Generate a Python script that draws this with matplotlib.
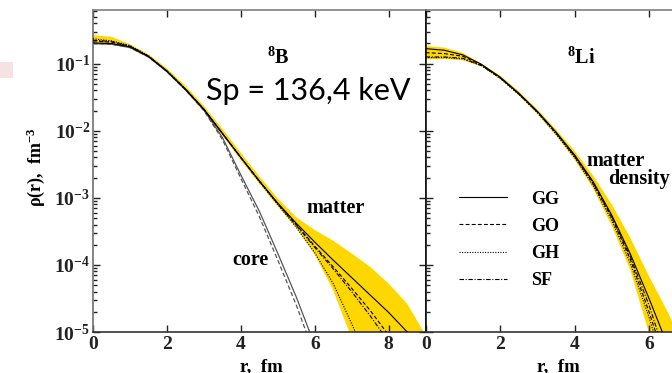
import numpy as np
import matplotlib
matplotlib.use("Agg")
import matplotlib.pyplot as plt
from matplotlib.ticker import FuncFormatter, LogLocator, NullFormatter
from matplotlib.patches import Rectangle

# === Density data, log10(rho) in fm^-3 ===
# 8B panel
r_b = [0, 0.5, 1, 1.5, 2, 2.5, 3, 3.5, 4, 4.5, 5, 5.5, 6, 6.5, 7, 7.5, 8, 8.5, 9]
b_gg = [-0.69, -0.70, -0.75, -0.89, -1.11, -1.38, -1.68, -2.04, -2.40, -2.75,
        -3.08, -3.38, -3.66, -3.93, -4.19, -4.45, -4.71, -5.00, -5.30]
b_go = [-0.66, -0.68, -0.74, -0.89, -1.11, -1.38, -1.68, -2.04, -2.40, -2.75,
        -3.09, -3.40, -3.72, -4.03, -4.35, -4.68, -5.05]
b_sf = [-0.65, -0.67, -0.74, -0.89, -1.11, -1.38, -1.68, -2.04, -2.40, -2.75,
        -3.09, -3.41, -3.74, -4.06, -4.40, -4.76, -5.15]
b_gh = [-0.63, -0.66, -0.73, -0.88, -1.11, -1.38, -1.68, -2.04, -2.40, -2.76,
        -3.10, -3.44, -3.82, -4.28, -4.88, -5.50]
b_band_hi = [-0.576, -0.60, -0.71, -0.86, -1.07, -1.33, -1.63, -1.97, -2.33, -2.68,
             -3.01, -3.29, -3.48, -3.64, -3.83, -4.03, -4.28, -4.58, -5.05]
b_band_lo = [-0.70, -0.71, -0.76, -0.90, -1.13, -1.40, -1.71, -2.07, -2.44, -2.79,
             -3.13, -3.45, -3.85, -4.38, -5.10, -5.90, -6.70, -7.50, -8.30]
b_core_gg = [-0.70, -0.71, -0.76, -0.90, -1.12, -1.39, -1.69, -2.10, -2.66, -3.20,
             -3.83, -4.48, -5.20]
b_core_go = [-0.70, -0.71, -0.76, -0.90, -1.12, -1.39, -1.70, -2.13, -2.71, -3.28,
             -3.93, -4.60, -5.35]

# 8Li panel
r_li = [0, 0.5, 1, 1.5, 2, 2.5, 3, 3.5, 4, 4.5, 5, 5.5, 6, 6.5, 7]
li_gg = [-0.776, -0.80, -0.87, -1.01, -1.20, -1.44, -1.71, -2.02, -2.36, -2.76,
         -3.26, -3.84, -4.50, -5.20]
li_go = [-0.836, -0.85, -0.89, -1.02, -1.21, -1.45, -1.72, -2.03, -2.38, -2.79,
         -3.30, -3.92, -4.70, -5.55]
li_gh = [-0.91, -0.91, -0.93, -1.03, -1.22, -1.46, -1.73, -2.05, -2.40, -2.82,
         -3.34, -3.98, -4.78, -5.70]
li_sf = [-0.90, -0.90, -0.92, -1.03, -1.21, -1.45, -1.72, -2.03, -2.38, -2.78,
         -3.28, -3.88, -4.60, -5.45]
li_band_hi = [-0.736, -0.76, -0.84, -1.00, -1.18, -1.41, -1.68, -1.98, -2.30, -2.67,
              -3.10, -3.60, -4.17, -4.70, -5.30]
li_band_lo = [-0.934, -0.93, -0.95, -1.04, -1.23, -1.47, -1.75, -2.07, -2.43, -2.86,
              -3.42, -4.08, -5.02, -6.00, -7.00]

labels = ["GG", "GO", "GH", "SF"]
styles = ["-", (0, (3.5, 2)), (0, (1, 1.3)), (0, (4, 1.5, 1, 1.5))]
band_color = "#FFD700"


def dens(r, logs):
    return np.asarray(r[:len(logs)]), 10.0 ** np.asarray(logs)


# === Style ===
plt.rcParams["font.family"] = "Liberation Serif"
plt.rcParams["font.weight"] = "bold"
plt.rcParams["mathtext.fontset"] = "custom"
plt.rcParams["mathtext.rm"] = "Liberation Serif:bold"
plt.rcParams["mathtext.it"] = "Liberation Serif:bold"
plt.rcParams["mathtext.bf"] = "Liberation Serif:bold"

W, H = 672, 373
fig = plt.figure(figsize=(W / 100, H / 100), dpi=100)

# axes placed in pixel units
ax_b = fig.add_axes([93 / W, (H - 332) / H, 332.7 / W, 322 / H])
ax_li = fig.add_axes([425.7 / W, (H - 332) / H, 335 / W, 322 / H])

for ax in (ax_b, ax_li):
    ax.set_yscale("log")
    ax.set_ylim(1e-5, 10 ** -0.2)
    ax.set_xlim(0, 9)
    ax.set_xticks([0, 2, 4, 6, 8])
    ax.yaxis.set_major_locator(LogLocator(base=10, numticks=10))
    ax.yaxis.set_minor_locator(LogLocator(base=10, subs=np.arange(2, 10), numticks=20))
    ax.yaxis.set_minor_formatter(NullFormatter())
    ax.tick_params(which="both", direction="in", width=1, colors="#222")
    ax.tick_params(which="major", length=5, labelsize=14)
    ax.tick_params(which="minor", length=3)
    ax.tick_params(axis="x", which="minor", length=0)
    ax.tick_params(axis="x", pad=3)
    for side in ax.spines:
        ax.spines[side].set_linewidth(1.2)
    ax.spines["top"].set_color("#808080")
    ax.spines["bottom"].set_color("#333")

ax_b.spines["left"].set_color("#707070")
ax_b.tick_params(top=True, right=True, labelleft=True)
ax_b.tick_params(axis="y", pad=2)
ax_b.yaxis.set_major_formatter(FuncFormatter(lambda v, p: r"$10^{%d}$" % round(np.log10(v))))
ax_li.tick_params(top=True, left=True, labelleft=False)
ax_li.spines["left"].set_color("#111")

# === 8B: matter band, matter curves and core ===
rr, lo = dens(r_b, b_band_lo)
_, hi = dens(r_b, b_band_hi)
ax_b.fill_between(rr, lo, hi, color=band_color, lw=0, zorder=1)
for logs, ls in zip([b_gg, b_go, b_gh, b_sf], styles):
    x, y = dens(r_b, logs)
    ax_b.plot(x, y, color="black", lw=0.8, linestyle=ls, zorder=3)
x, y = dens(r_b, b_core_gg)
ax_b.plot(x, y, color="#555", lw=0.9, zorder=2)
x, y = dens(r_b, b_core_go)
ax_b.plot(x, y, color="#555", lw=0.9, linestyle=styles[1], zorder=2)

# === 8Li: matter band and curves ===
rr, lo = dens(r_li, li_band_lo)
_, hi = dens(r_li, li_band_hi)
ax_li.fill_between(rr, lo, hi, color=band_color, lw=0, zorder=1)
handles = []
for logs, ls, lab in zip([li_gg, li_go, li_gh, li_sf], styles, labels):
    x, y = dens(r_li, logs)
    h, = ax_li.plot(x, y, color="black", lw=0.8, linestyle=ls, zorder=3, label=lab)
    handles.append(h)

ax_li.legend(handles=handles, loc="upper left", bbox_to_anchor=(459 / W, (H - 190.5) / H),
             bbox_transform=fig.transFigure, frameon=False, fontsize=13,
             handlelength=2.64, handletextpad=1.33, labelspacing=0.57,
             borderpad=0, borderaxespad=0)

# === Labels ===
txt = dict(fontsize=14.5, fontweight="bold")
ax_b.text(4.70, 0.1, r"$^{8}$B", ha="left", va="baseline", **txt)
ax_b.text(6.55, 7.1e-4, "matter", ha="center", va="center", **txt)
ax_b.text(4.25, 1.17e-4, "core", ha="center", va="center", **txt)
ax_li.text(3.79, 0.1, r"$^{8}$Li", ha="left", va="baseline", **txt)
ax_li.text(5.09, 3.55e-3, "matter", ha="center", va="center", **txt)
ax_li.text(5.73, 1.9e-3, "density", ha="center", va="center", **txt)

ax_b.set_ylabel(r"ρ(r),  fm$^{-3}$", fontsize=13, fontweight="bold")
ax_b.yaxis.set_label_coords(-0.138, 0.512)
ax_b.set_xlabel("r,  fm", fontsize=13.5, fontweight="bold")
ax_b.xaxis.set_label_coords(0.507, -0.083)
ax_li.set_xlabel("r,  fm", fontsize=13.5, fontweight="bold")
ax_li.xaxis.set_label_coords(0.397, -0.083)

fig.text(205.7 / W, (H - 100) / H, "Sp = 136,4 keV", family="Lato", fontweight="normal",
         fontsize=22, ha="left", va="baseline")

# small pink patch at the left edge
fig.patches.append(Rectangle((0, (H - 78) / H), 13 / W, 16 / H, transform=fig.transFigure,
                             facecolor="#f6e2e2", edgecolor="none"))

fig.savefig("out.png", dpi=100)
